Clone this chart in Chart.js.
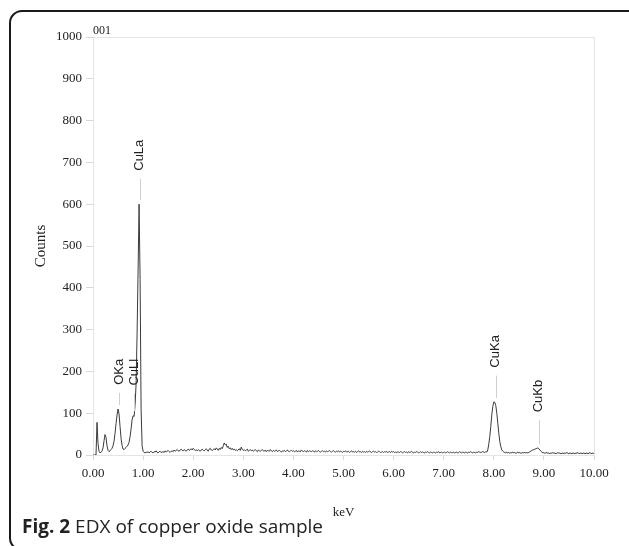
<!DOCTYPE html>
<html>
<head>
<meta charset="utf-8">
<script src="https://cdn.jsdelivr.net/npm/chart.js@4.4.1/dist/chart.umd.min.js"></script>
<style>
  html, body { margin: 0; padding: 0; background: #fff; width: 629px; height: 546px; overflow: hidden; }
  #frame { position: absolute; left: 9px; top: 10px; width: 680px; height: 541px; box-sizing: border-box;
           border: 2px solid #1a1a1a; border-radius: 13px; }
  #chart { position: absolute; left: 0; top: 0; }
  #caption { position: absolute; left: 22px; top: 513px; font-family: "Open Sans"; font-size: 19px; color: #222; white-space: nowrap; }
  #caption b { font-weight: 700; }
</style>
</head>
<body>
<div id="frame"></div>
<canvas id="chart" width="629" height="546"></canvas>
<div id="caption"><b>Fig. 2</b> EDX of copper oxide sample</div>
<script>
// spectrum sampled every 0.02 keV from 0.00 to 10.00
const energyStart = 0;
const energyStep = 0.02;
const spectrumCounts = [
  0, 0, 0, 0, 78, 28, 9, 5, 7, 9,
  17, 34, 49, 42, 22, 11, 8, 10, 13, 16,
  22, 33, 52, 75, 96, 110, 98, 68, 40, 23,
  14, 13, 16, 18, 21, 24, 30, 44, 62, 84,
  94, 92, 120, 170, 290, 440, 600, 420, 110, 22,
  9, 6, 5, 7, 6, 8, 5, 7, 9, 6,
  5, 8, 7, 10, 6, 5, 8, 9, 6, 7,
  8, 6, 10, 7, 9, 11, 8, 6, 9, 10,
  8, 12, 9, 11, 13, 10, 9, 12, 14, 11,
  10, 13, 11, 9, 12, 14, 11, 13, 15, 12,
  16, 13, 11, 12, 10, 13, 11, 9, 12, 14,
  11, 10, 13, 15, 12, 9, 14, 16, 12, 11,
  13, 15, 12, 17, 14, 11, 16, 13, 18, 15,
  22, 29, 24, 26, 18, 21, 15, 17, 13, 16,
  12, 14, 11, 13, 10, 12, 15, 11, 19, 13,
  11, 13, 10, 12, 14, 9, 11, 13, 10, 12,
  9, 11, 13, 10, 8, 12, 10, 9, 11, 13,
  10, 9, 12, 8, 11, 10, 9, 13, 10, 8,
  11, 9, 10, 12, 8, 10, 11, 9, 7, 10,
  9, 11, 8, 10, 12, 9, 8, 10, 11, 9,
  10, 8, 9, 11, 7, 10, 9, 8, 12, 9,
  8, 10, 9, 7, 11, 8, 10, 9, 8, 10,
  9, 7, 10, 8, 9, 11, 8, 7, 9, 10,
  8, 9, 7, 10, 8, 9, 11, 8, 7, 9,
  10, 8, 7, 9, 8, 10, 7, 9, 8, 6,
  9, 8, 10, 7, 8, 9, 6, 8, 10, 7,
  8, 7, 9, 6, 8, 10, 7, 8, 6, 9,
  7, 8, 6, 9, 7, 8, 10, 7, 6, 8,
  9, 7, 8, 6, 7, 9, 8, 6, 7, 8,
  6, 8, 7, 9, 6, 7, 8, 6, 9, 7,
  8, 6, 7, 5, 8, 7, 6, 8, 7, 5,
  7, 8, 6, 7, 5, 8, 6, 7, 9, 6,
  5, 7, 6, 8, 7, 5, 6, 8, 6, 7,
  6, 5, 7, 6, 8, 6, 5, 7, 6, 5,
  7, 6, 5, 7, 6, 8, 5, 6, 7, 5,
  6, 7, 5, 6, 8, 6, 5, 7, 6, 5,
  7, 5, 6, 7, 5, 6, 8, 6, 5, 7,
  6, 5, 7, 6, 5, 7, 6, 8, 6, 5,
  7, 6, 5, 7, 6, 8, 7, 6, 7, 8,
  7, 6, 8, 7, 12, 26, 44, 68, 96, 116,
  127, 126, 118, 100, 76, 52, 32, 20, 12, 9,
  7, 6, 5, 7, 5, 6, 4, 6, 5, 7,
  5, 6, 4, 5, 7, 5, 6, 4, 5, 6,
  5, 6, 5, 6, 5, 6, 8, 9, 11, 12,
  13, 14, 15, 16, 17, 15, 12, 9, 7, 5,
  6, 4, 5, 6, 4, 5, 3, 5, 4, 6,
  4, 5, 3, 4, 6, 4, 5, 3, 4, 5,
  3, 5, 4, 6, 4, 3, 5, 4, 3, 5,
  4, 3, 5, 4, 6, 3, 4, 5, 3, 4,
  5, 3, 4, 5, 3, 4, 6, 3, 4, 5,
  3
];

const xTickLabels = ["0.00", "1.00", "2.00", "3.00", "4.00", "5.00", "6.00", "7.00", "8.00", "9.00", "10.00"];

// peak annotations
const peakNames = ["OKa", "CuLl", "CuLa", "CuKa", "CuKb"];
const peakEnergy = [0.52, 0.82, 0.93, 8.04, 8.90];
const peakCounts = [110, 95, 600, 127, 17];
const peakLabelCounts = [168, 166, 680, 209, 102];

const points = spectrumCounts.map((c, i) => ({ x: energyStart + i * energyStep, y: c }));

const serif = "'Liberation Serif', 'Times New Roman', serif";

const boxPlugin = {
  id: "box",
  beforeDatasetsDraw(chart) {
    const { ctx, chartArea: a } = chart;
    ctx.save();
    ctx.strokeStyle = "#e4e4e4";
    ctx.lineWidth = 1;
    ctx.strokeRect(a.left + 0.5, a.top + 0.5, a.right - a.left, a.bottom - a.top);
    ctx.restore();
  },
  afterDatasetsDraw(chart) {
    const { ctx, chartArea: a, scales } = chart;
    ctx.save();
    // sample id
    ctx.font = "12px " + serif;
    ctx.fillStyle = "#222";
    ctx.textAlign = "left";
    ctx.textBaseline = "alphabetic";
    ctx.fillText("001", a.left, a.top - 3);

    // peak labels
    peakNames.forEach((name, i) => {
      const x = scales.x.getPixelForValue(peakEnergy[i]);
      const yText = scales.y.getPixelForValue(peakLabelCounts[i]);
      const yPeak = scales.y.getPixelForValue(peakCounts[i]);
      ctx.strokeStyle = "#cfcfcf";
      ctx.lineWidth = 1;
      ctx.beginPath();
      ctx.moveTo(Math.round(x) + 0.5, yText + 8);
      ctx.lineTo(Math.round(x) + 0.5, yPeak - 4);
      ctx.stroke();

      ctx.save();
      ctx.translate(x, yText);
      ctx.rotate(-Math.PI / 2);
      ctx.font = "13px 'Liberation Sans', Arial, sans-serif";
      ctx.fillStyle = "#222";
      ctx.textAlign = "left";
      ctx.textBaseline = "middle";
      ctx.fillText(name, 0, 0);
      ctx.restore();
    });
    ctx.restore();
  }
};

new Chart(document.getElementById("chart"), {
  type: "line",
  data: {
    datasets: [{
      data: points,
      borderColor: "#3a3a3a",
      borderWidth: 1,
      pointRadius: 0,
      tension: 0,
      fill: false
    }]
  },
  options: {
    responsive: false,
    animation: false,
    layout: { padding: { left: 28, right: 35, top: 37, bottom: 22 } },
    plugins: { legend: { display: false }, tooltip: { enabled: false } },
    scales: {
      x: {
        type: "linear",
        min: 0,
        max: 10,
        afterFit: s => { s.height = 69; },
        ticks: {
          stepSize: 1,
          padding: 6,
          color: "#222",
          font: { family: serif, size: 13 },
          callback: (v, i) => xTickLabels[i]
        },
        grid: { drawOnChartArea: false, drawTicks: true, tickLength: 5, color: "#d8d8d8" },
        border: { display: false },
        title: { display: true, text: "keV", color: "#222", font: { family: serif, size: 13 }, padding: 4 }
      },
      y: {
        min: 0,
        max: 1000,
        afterFit: s => { s.width = 65; },
        ticks: {
          stepSize: 100,
          padding: 4,
          color: "#222",
          font: { family: serif, size: 13 },
          callback: v => String(v)
        },
        grid: { drawOnChartArea: false, drawTicks: true, tickLength: 7, color: "#d8d8d8" },
        border: { display: false },
        title: { display: true, text: "Counts", color: "#222", font: { family: serif, size: 15 }, padding: 4 }
      }
    }
  },
  plugins: [boxPlugin]
});
</script>
</body>
</html>
